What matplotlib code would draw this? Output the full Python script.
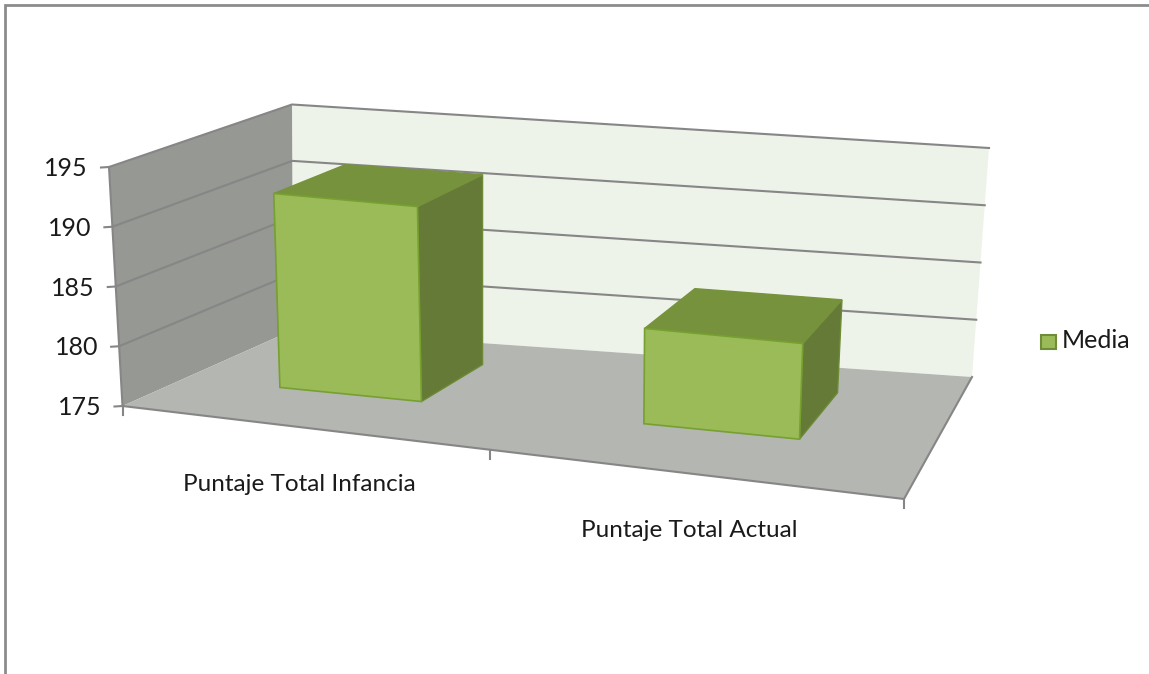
import numpy as np
import matplotlib
matplotlib.use('Agg')
import matplotlib.pyplot as plt
from matplotlib.patches import Polygon, Rectangle

# datos del grafico
categorias = ['Puntaje Total Infancia', 'Puntaje Total Actual']
media = [191.5, 183.0]
valores_eje = [175, 180, 185, 190, 195]
serie = 'Media'

# esquinas de la caja 3D en pixeles: frente-izq, fondo-izq, fondo-der, frente-der
piso = [(122.5, 406), (293, 330), (972, 377), (904, 499)]
techo = [(109, 167), (292, 104.5), (989, 148), (917, 253)]

# posicion de las barras dentro de la caja
centros = [0.25, 0.75]
desfase = -0.012
ancho = 0.20
prof0, prof1 = 0.275, 0.70
# correccion de perspectiva a lo ancho y en profundidad
k_u, k_d = 1.28, 1.30


def homografia(esquinas):
    # pasa del cuadrado unidad (u, d) al cuadrilatero
    uv = [(0, 0), (0, 1), (1, 1), (1, 0)]
    A, b = [], []
    for (u, d), (x, y) in zip(uv, esquinas):
        A.append([u, d, 1, 0, 0, 0, -u * x, -d * x])
        A.append([0, 0, 0, u, d, 1, -u * y, -d * y])
        b += [x, y]
    h = np.linalg.solve(np.array(A, float), np.array(b, float))
    return np.append(h, 1).reshape(3, 3)


H_piso = homografia(piso)
H_techo = homografia(techo)


def ajuste(s, k):
    return k * s / (1 + (k - 1) * s)


def proy(u, v, d):
    # u: a lo ancho, v: valor del eje, d: profundidad
    t = (v - valores_eje[0]) / (valores_eje[-1] - valores_eje[0])
    u, d = ajuste(u, k_u), ajuste(d, k_d)
    p = H_piso @ [u, d, 1]
    q = H_techo @ [u, d, 1]
    return (1 - t) * p[:2] / p[2] + t * q[:2] / q[2]


plt.rcParams['font.family'] = ['Lato', 'DejaVu Sans']
fig = plt.figure(figsize=(11.49, 6.74), dpi=100)
ax = fig.add_axes([0, 0, 1, 1])
ax.set_xlim(0, 1149)
ax.set_ylim(674, 0)
ax.axis('off')

# marco exterior
ax.plot([5, 5, 1149], [674, 5, 5], color='#8c8c8c', lw=2, solid_joinstyle='miter')

v0, v1 = valores_eje[0], valores_eje[-1]
gris = '#868686'
texto = '#1a1a1a'

# paredes y piso
ax.add_patch(Polygon([proy(0, v0, 1), proy(1, v0, 1), proy(1, v1, 1), proy(0, v1, 1)],
                     fc='#eef3e9', ec='none'))
ax.add_patch(Polygon([proy(0, v0, 0), proy(0, v0, 1), proy(0, v1, 1), proy(0, v1, 0)],
                     fc='#969893', ec='none'))
ax.add_patch(Polygon([proy(0, v0, 0), proy(0, v0, 1), proy(1, v0, 1), proy(1, v0, 0)],
                     fc='#b4b6b1', ec='none'))

# lineas de division
for v in valores_eje:
    a, b, c = proy(0, v, 0), proy(0, v, 1), proy(1, v, 1)
    if v != v0:
        ax.plot([a[0], b[0], c[0]], [a[1], b[1], c[1]], color=gris, lw=1.5)
    ax.plot([a[0] - 8, a[0]], [a[1] + 0.5, a[1]], color=gris, lw=1.5)
    ax.text(a[0] - 21, a[1] + 1.5, str(v), ha='right', va='center', fontsize=18, color=texto)

# bordes de la caja y marcas del eje
a, b = proy(0, v0, 0), proy(0, v1, 0)
ax.plot([a[0], b[0]], [a[1], b[1]], color=gris, lw=1.5)
a, b, c = proy(0, v0, 0), proy(1, v0, 0), proy(1, v0, 1)
ax.plot([a[0], b[0], c[0]], [a[1], b[1], c[1]], color=gris, lw=1.5)
for u in [0, 0.5, 1]:
    p = proy(u, v0, 0)
    ax.plot([p[0], p[0]], [p[1], p[1] + 9], color=gris, lw=1.5)

# barras
for c, m in zip(centros, media):
    u0, u1 = c + desfase - ancho / 2, c + desfase + ancho / 2
    cara = [proy(u0, v0, prof0), proy(u1, v0, prof0), proy(u1, m, prof0), proy(u0, m, prof0)]
    arriba = [proy(u0, m, prof0), proy(u1, m, prof0), proy(u1, m, prof1), proy(u0, m, prof1)]
    lado = [proy(u1, v0, prof0), proy(u1, v0, prof1), proy(u1, m, prof1), proy(u1, m, prof0)]
    ax.add_patch(Polygon(lado, fc='#647a36', ec='#6d8a35', lw=1, zorder=3))
    ax.add_patch(Polygon(arriba, fc='#76923c', ec='#76923c', lw=1, zorder=3))
    ax.add_patch(Polygon(cara, fc='#9bbb59', ec='#76a02f', lw=1.2, zorder=3))

# etiquetas de categoria
for c, nombre in zip(centros, categorias):
    p = proy(c, v0, 0)
    ax.text(p[0] - 1, p[1] + 57, nombre, ha='center', va='center', fontsize=17.5, color=texto)

# leyenda
ax.add_patch(Rectangle((1041, 335), 15, 14, fc='#9bbb59', ec='#6f8c38', lw=1.5))
ax.text(1062, 341, serie, ha='left', va='center', fontsize=18, color=texto)

fig.savefig('out.png', dpi=100)
